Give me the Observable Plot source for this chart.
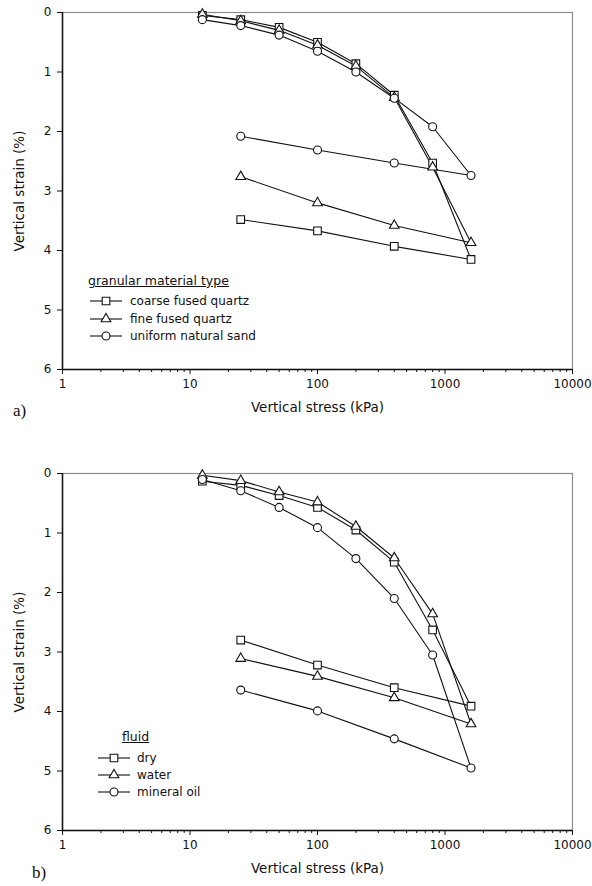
<!DOCTYPE html>
<html>
<head>
<meta charset="utf-8">
<script src="https://cdn.jsdelivr.net/npm/d3@7"></script>
<script src="https://cdn.jsdelivr.net/npm/@observablehq/plot@0.6"></script>
<style>
  body { margin: 0; background: #fff; }
  #wrap { position: relative; width: 592px; height: 886px; overflow: hidden; font-family: "DejaVu Sans", sans-serif; color: #111; }
  .panel { position: absolute; left: 0; }
  .panel [aria-label="x-axis label"] text, .panel [aria-label="y-axis label"] text { font-size: 13.5px; }
  .tag { position: absolute; font-family: "Liberation Serif", serif; font-size: 17px; line-height: 18px; color: #111; }
  .lg { position: absolute; font-size: 12px; line-height: 14px; white-space: nowrap; color: #111; }
  .lg.title { text-decoration: underline; font-size: 12.5px; }
  .lg svg { position: absolute; overflow: visible; }
</style>
</head>
<body>
<div id="wrap"></div>
<script>
// ---- data ----
const stressLoad = [12.5, 25, 50, 100, 200, 400, 800, 1600];
const stressUnload = [1600, 400, 100, 25];

// panel a: granular material type
const materialTypes = ["coarse fused quartz", "fine fused quartz", "uniform natural sand"];
const coarseLoad   = [0.05, 0.12, 0.25, 0.50, 0.86, 1.39, 2.53, 4.15];
const coarseUnload = [4.15, 3.93, 3.67, 3.48];
const fineLoad     = [0.03, 0.14, 0.30, 0.55, 0.90, 1.43, 2.60, 3.87];
const fineUnload   = [3.87, 3.58, 3.20, 2.76];
const sandLoad     = [0.12, 0.22, 0.38, 0.65, 1.00, 1.44, 1.92, 2.74];
const sandUnload   = [2.74, 2.53, 2.31, 2.08];

// panel b: fluid
const fluids = ["dry", "water", "mineral oil"];
const dryLoad     = [0.13, 0.20, 0.37, 0.57, 0.95, 1.49, 2.63, 3.91];
const dryUnload   = [3.91, 3.60, 3.22, 2.80];
const waterLoad   = [0.03, 0.12, 0.31, 0.48, 0.89, 1.42, 2.36, 4.21];
const waterUnload = [4.21, 3.77, 3.41, 3.11];
const oilLoad     = [0.10, 0.29, 0.57, 0.91, 1.43, 2.10, 3.05, 4.95];
const oilUnload   = [4.95, 4.46, 3.99, 3.64];

const xTickValues = [1, 10, 100, 1000, 10000];
const yTickValues = [0, 1, 2, 3, 4, 5, 6];
const xLabel = "Vertical stress (kPa)";
const yLabel = "Vertical strain (%)";

// ---- styles ----
const symbolNames = ["square", "triangle", "circle"];
const symbolR = {square: 4.3, triangle: 3.6, circle: 4};
const ink = "#111";

// ---- build tables ----
function series(name, load, unload) {
  const pts = load.map((v, i) => ({name, stress: stressLoad[i], strain: v}));
  unload.forEach((v, i) => { if (i > 0) pts.push({name, stress: stressUnload[i], strain: v}); });
  return pts;
}
const rowsA = [
  ...series(materialTypes[0], coarseLoad, coarseUnload),
  ...series(materialTypes[1], fineLoad, fineUnload),
  ...series(materialTypes[2], sandLoad, sandUnload)
];
const rowsB = [
  ...series(fluids[0], dryLoad, dryUnload),
  ...series(fluids[1], waterLoad, waterUnload),
  ...series(fluids[2], oilLoad, oilUnload)
];
const minorTicks = [];
xTickValues.slice(0, -1).forEach(d => { for (let k = 2; k <= 9; k++) minorTicks.push(d * k); });

function panel(rows, names) {
  const dots = names.map((n, i) =>
    Plot.dot(rows.filter(d => d.name === n), {
      x: "stress", y: "strain", symbol: "name", r: symbolR[symbolNames[i]],
      fill: "white", stroke: ink, strokeWidth: 1.1
    })
  );
  return Plot.plot({
    width: 592, height: 419,
    marginLeft: 62, marginRight: 20, marginTop: 12, marginBottom: 50,
    style: {fontFamily: "DejaVu Sans, sans-serif", fontSize: "12px", color: ink, background: "transparent", overflow: "visible"},
    x: {type: "log", domain: [1, 10000]},
    y: {domain: [0, 6], reverse: true},
    symbol: {domain: names, range: symbolNames},
    marks: [
      Plot.frame({stroke: "#8c8c8c", strokeWidth: 1.2}),
      Plot.axisX({ticks: minorTicks, tickSize: 3, fill: "none", label: null, stroke: ink}),
      Plot.axisX({ticks: xTickValues, tickSize: 5, tickPadding: 5, stroke: ink, tickFormat: d => String(d),
                  label: xLabel, labelAnchor: "center", labelOffset: 42, labelArrow: "none", ariaLabel: "x-axis"}),
      Plot.axisY({ticks: yTickValues, tickSize: 5, tickPadding: 6, stroke: ink, tickFormat: d => String(d),
                  label: yLabel, labelAnchor: "center", labelOffset: 48, labelArrow: "none", ariaLabel: "y-axis"}),
      Plot.ruleX([1], {stroke: ink, strokeWidth: 1.5}),
      Plot.ruleY([6], {stroke: ink, strokeWidth: 1.5}),
      Plot.line(rows, {x: "stress", y: "strain", z: "name", stroke: ink, strokeWidth: 1.1}),
      ...dots
    ]
  });
}

const wrap = document.getElementById("wrap");
function place(el, top) { el.classList.add("panel"); el.style.top = top + "px"; wrap.appendChild(el); }
place(panel(rowsA, materialTypes), 0);
place(panel(rowsB, fluids), 461);

function tag(text, left, top) {
  const d = document.createElement("div");
  d.className = "tag"; d.textContent = text;
  d.style.left = left + "px"; d.style.top = top + "px";
  wrap.appendChild(d);
}
tag("a)", 13, 402);
tag("b)", 32, 864);

function legend(title, names, titleLeft, titleCy, lineLeft, textLeft, rowCys) {
  const t = document.createElement("div");
  t.className = "lg title"; t.textContent = title;
  t.style.left = titleLeft + "px"; t.style.top = (titleCy - 7) + "px";
  wrap.appendChild(t);
  names.forEach((n, i) => {
    const row = document.createElement("div");
    row.className = "lg"; row.textContent = n;
    row.style.left = textLeft + "px"; row.style.top = (rowCys[i] - 7) + "px";
    wrap.appendChild(row);
    const svg = d3.select(wrap).append("svg")
      .attr("width", 34).attr("height", 14)
      .style("position", "absolute")
      .style("left", lineLeft + "px").style("top", (rowCys[i] - 7) + "px");
    svg.append("line").attr("x1", 0).attr("x2", 32).attr("y1", 7).attr("y2", 7)
      .attr("stroke", ink).attr("stroke-width", 1.1);
    const sym = {square: d3.symbolSquare, triangle: d3.symbolTriangle, circle: d3.symbolCircle}[symbolNames[i]];
    const r = symbolR[symbolNames[i]];
    svg.append("path").attr("d", d3.symbol(sym, Math.PI * r * r)())
      .attr("transform", "translate(16,7)")
      .attr("fill", "white").attr("stroke", ink).attr("stroke-width", 1.1);
  });
}
legend("granular material type", materialTypes, 88, 281, 90, 130, [301, 319, 336]);
legend("fluid", fluids, 122, 737, 98, 137, [758, 775, 792]);
</script>
</body>
</html>
